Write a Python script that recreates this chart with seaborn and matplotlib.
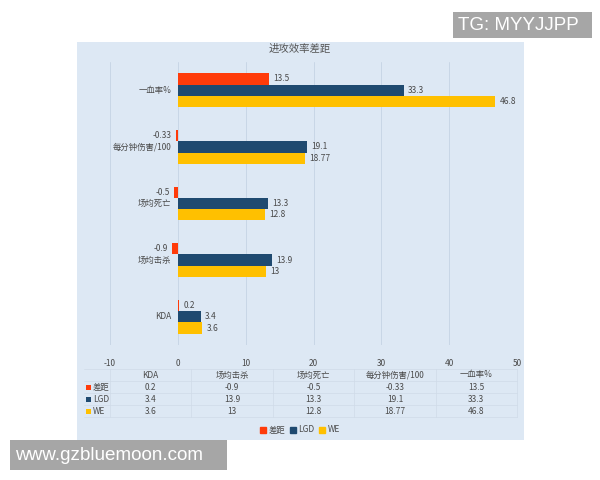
import matplotlib
matplotlib.use("Agg")
import matplotlib.pyplot as plt
import matplotlib.patches as mpatches
import matplotlib.transforms as mtrans
import seaborn as sns
import pandas as pd

categories = ["一血率%", "每分钟伤害/100", "场均死亡", "场均击杀", "KDA"]
series_names = ["差距", "LGD", "WE"]
gap_vals = [13.5, -0.33, -0.5, -0.9, 0.2]
lgd_vals = [33.3, 19.1, 13.3, 13.9, 3.4]
we_vals = [46.8, 18.77, 12.8, 13.0, 3.6]
x_ticks = [-10, 0, 10, 20, 30, 40, 50]
table_cols = ["KDA", "场均击杀", "场均死亡", "每分钟伤害/100", "一血率%"]
colors = ["#ff3b0a", "#1f4a70", "#ffc000"]

rows = []
for name, vals in zip(series_names, [gap_vals, lgd_vals, we_vals]):
    for c, v in zip(categories, vals):
        rows.append({"cat": c, "series": name, "val": v})
df = pd.DataFrame(rows)

sns.set_theme(style="white")
plt.rcParams["font.family"] = ["Noto Sans CJK SC", "DejaVu Sans"]

fig = plt.figure(figsize=(6, 4.8), dpi=100)
fig.patch.set_facecolor("white")
W, H = 600.0, 480.0
panel_bg = "#dde8f4"
txt = "#4a4a4a"

# background panel
fig.patches.append(mpatches.Rectangle((77 / W, 1 - 440 / H), 447 / W, 398 / H,
                                      transform=fig.transFigure, facecolor=panel_bg,
                                      edgecolor="none", zorder=-5))

ax = fig.add_axes([110 / W, 1 - 345 / H, 407 / W, 283 / H])
ax.set_zorder(2)
ax.set_facecolor("none")
sns.barplot(data=df, y="cat", x="val", hue="series", order=categories,
            hue_order=series_names, palette=colors, orient="h", width=0.6,
            ax=ax, legend=False, linewidth=0, saturation=1)

for cont in ax.containers:
    labels = ["%g" % b.get_width() for b in cont]
    ax.bar_label(cont, labels=labels, padding=3, fontsize=6, color=txt)

ax.set_xlim(-10, 50)
ax.set_ylim(4.5, -0.5)
ax.set_xticks(x_ticks)
ax.set_xticklabels([str(t) for t in x_ticks], fontsize=6, color=txt)
ax.tick_params(axis="x", length=0, pad=10)
ax.set_yticks([])
ax.set_xlabel("")
ax.set_ylabel("")
for s in ax.spines.values():
    s.set_visible(False)
ax.grid(axis="x", color="#c8d6e6", linewidth=0.7)
ax.set_axisbelow(True)

# category labels near zero line
for i, c in enumerate(categories):
    ax.text(-0.9, i, c, ha="right", va="center", fontsize=6, color=txt)

fig.text(0.5, 1 - 49 / H, "进攻效率差距", ha="center", va="center", fontsize=7.5, color="#555555")

# data table under the axis
bt = mtrans.blended_transform_factory(ax.transData, fig.transFigure)
col_centers = [-4, 8, 20, 32, 44]
row_y = [375, 387, 399, 411]
for cx, name in zip(col_centers, table_cols):
    ax.text(cx, 1 - row_y[0] / H, name, transform=bt, ha="center", va="center",
            fontsize=6, color=txt, clip_on=False)
table_vals = {
    "差距": gap_vals[::-1],
    "LGD": lgd_vals[::-1],
    "WE": we_vals[::-1],
}
for r, (name, col) in enumerate(zip(series_names, colors)):
    y = 1 - row_y[r + 1] / H
    for cx, v in zip(col_centers, table_vals[name]):
        ax.text(cx, y, "%g" % v, transform=bt, ha="center", va="center",
                fontsize=6, color=txt, clip_on=False)
    fig.patches.append(mpatches.Rectangle((86 / W, y - 2.5 / H), 5 / W, 5 / H,
                                          transform=fig.transFigure, facecolor=col,
                                          edgecolor="none"))
    fig.text(93 / W, y, name, ha="left", va="center", fontsize=6, color=txt)

line_c = "#cfdbe8"
for yb in [369, 381, 393, 405, 417]:
    fig.add_artist(plt.Line2D([84 / W, 517 / W], [1 - yb / H] * 2, transform=fig.transFigure,
                              color=line_c, linewidth=0.5))
for xb in [-10, 2, 14, 26, 38, 50]:
    ax.add_artist(plt.Line2D([xb, xb], [1 - 369 / H, 1 - 417 / H], transform=bt,
                             color=line_c, linewidth=0.5, clip_on=False))

handles = [mpatches.Patch(color=c, label=n) for c, n in zip(colors, series_names)]
fig.legend(handles=handles, loc="center", bbox_to_anchor=(0.5, 1 - 430 / H), ncol=3,
           frameon=False, fontsize=6, handlelength=0.7, handleheight=0.7,
           handletextpad=0.3, columnspacing=0.6, labelcolor=txt)

# watermarks
fig.patches.append(mpatches.Rectangle((453 / W, 1 - 38 / H), 139 / W, 26 / H,
                                      transform=fig.transFigure, facecolor="#a6a6a6",
                                      edgecolor="none", zorder=5))
fig.text(458 / W, 1 - 25 / H, "TG: MYYJJPP", ha="left", va="center", fontsize=13.5,
         color="white", family="Liberation Sans", zorder=6)
fig.patches.append(mpatches.Rectangle((10 / W, 1 - 470 / H), 217 / W, 30 / H,
                                      transform=fig.transFigure, facecolor="#a6a6a6",
                                      edgecolor="none", zorder=5))
fig.text(15 / W, 1 - 455 / H, "www.gzbluemoon.com", ha="left", va="center", fontsize=13.6,
         color="white", family="Liberation Sans", zorder=6)

fig.savefig("out.png", dpi=100)
